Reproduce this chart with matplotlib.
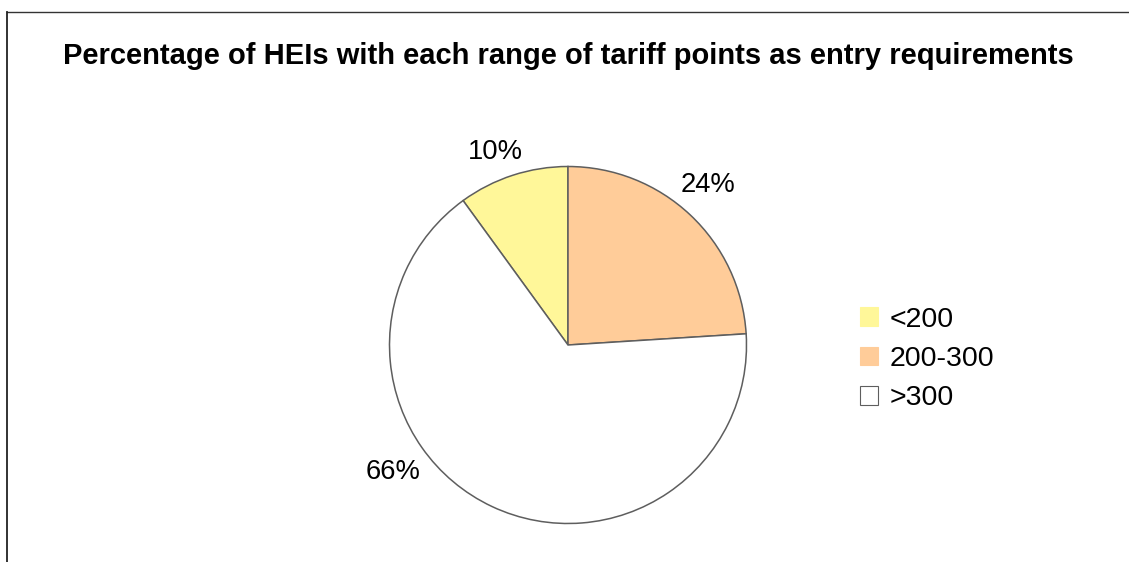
import numpy as np
import matplotlib
matplotlib.use("Agg")
import matplotlib.pyplot as plt
from matplotlib.patches import Patch
from matplotlib.lines import Line2D

plt.rcParams["font.family"] = ["Liberation Sans", "DejaVu Sans"]

TITLE = "Percentage of HEIs with each range of tariff points as entry requirements"
RANGES = ["<200", "200-300", ">300"]
SHARES = [10, 24, 66]
COLORS = ["#FFF799", "#FFCC99", "#FFFFFF"]
EDGE, INK = "#5e5e5e", "#000000"

# where each percentage label sits: angle (deg) and distance (in radii)
LABEL_ANGLE = [110.7, 48.8, 216.0]
LABEL_DIST = [1.155, 1.19, 1.21]

W, H = 1129, 562
fig = plt.figure(figsize=(W / 100, H / 100), dpi=100, facecolor="white")

# pie axes: square box, centre at (568, 345) px, radius ~178 px
R = 178.5
side = 2.5 * R
ax = fig.add_axes([(568 - side / 2) / W, (H - 345 - side / 2) / H, side / W, side / H])
start = 90 + 360 * SHARES[0] / sum(SHARES)
wedges, texts = ax.pie(SHARES, colors=COLORS, startangle=start, counterclock=False,
                       labels=[f"{v}%" for v in SHARES], labeldistance=1.2,
                       wedgeprops=dict(edgecolor=EDGE, linewidth=1.1),
                       textprops=dict(fontsize=19.7, color=INK))
for t, a, d in zip(texts, LABEL_ANGLE, LABEL_DIST):
    t.set_position((d * np.cos(np.radians(a)), d * np.sin(np.radians(a))))
    t.set_ha("center"); t.set_va("center")
    t.set_clip_on(False)
ax.set_xlim(-1.25, 1.25); ax.set_ylim(-1.25, 1.25)
ax.set_aspect("equal")

fig.text(568.5 / W, 1 - 56 / H, TITLE, ha="center", va="center",
         fontsize=21, fontweight="bold", color=INK)

handles = [Patch(facecolor=c, edgecolor=(EDGE if c == "#FFFFFF" else c), linewidth=0.8)
           for c in COLORS]
fig.legend(handles, RANGES, loc="center left", bbox_to_anchor=(860 / W, 1 - 359 / H),
           frameon=False, fontsize=20.5, handlelength=0.63, handleheight=0.63,
           handletextpad=0.42, labelspacing=0.47, borderpad=0, borderaxespad=0)

# outer frame: top and left edges only
fig.add_artist(Line2D([7 / W, 1], [1 - 12 / H] * 2, transform=fig.transFigure,
                      color="#333333", lw=1.0))
fig.add_artist(Line2D([7 / W] * 2, [0, 1 - 12 / H], transform=fig.transFigure,
                      color="#222222", lw=1.3))

fig.savefig("out.png", dpi=100, facecolor="white")
